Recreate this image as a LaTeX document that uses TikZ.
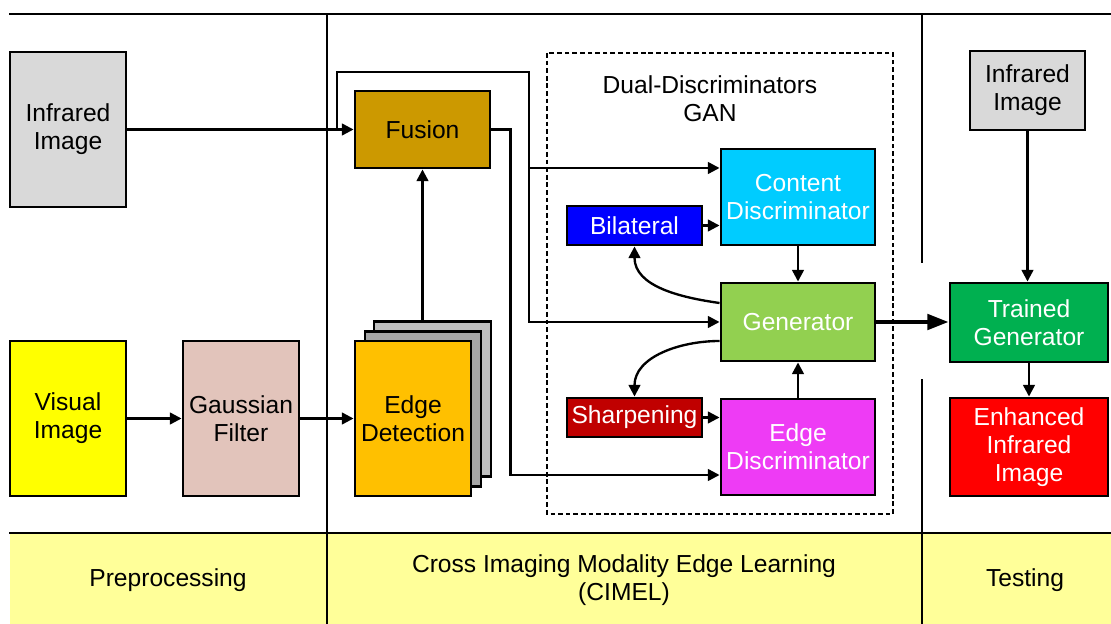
\documentclass[tikz,border=0pt]{standalone}
\usepackage{fontspec}
\setmainfont{Liberation Sans}
\usepackage{tikz}
\usetikzlibrary{arrows.meta,calc,positioning}
\definecolor{irgray}{HTML}{D9D9D9}
\definecolor{visyellow}{HTML}{FFFF00}
\definecolor{gaussrose}{HTML}{E2C4BB}
\definecolor{edgeorange}{HTML}{FFC000}
\definecolor{stackdark}{HTML}{A6A6A6}
\definecolor{stacklight}{HTML}{BFBFBF}
\definecolor{fusiongold}{HTML}{CC9900}
\definecolor{contentcyan}{HTML}{00CCFF}
\definecolor{bilatblue}{HTML}{0000FF}
\definecolor{genlime}{HTML}{92D050}
\definecolor{sharpred}{HTML}{C00000}
\definecolor{edgemagenta}{HTML}{EE3BF5}
\definecolor{trainedgreen}{HTML}{00B050}
\definecolor{enhred}{HTML}{FF0000}
\definecolor{bandyellow}{HTML}{FFFF99}
\tikzset{
  every picture/.style={draw=black, text=black},
}

\begin{document}
\begin{tikzpicture}[x=0.03cm, y=-0.03cm,
  every node/.style={font=\fontsize{21}{24}\selectfont, align=center},
  box/.style={draw=black, line width=2.5pt, inner sep=0pt},
  tallbox/.style={box, minimum width=3.48cm, minimum height=4.65cm},
  arr/.style={-{Triangle[length=10pt,width=10pt]}, line width=2pt},
  bigarr/.style={-{Triangle[length=18pt,width=13pt]}, line width=3.5pt},
  rule/.style={line width=2.2pt},
  divider/.style={line width=1pt}]

\useasboundingbox (0,0) rectangle (1111,624);

%% Section frame and bottom band
\fill[bandyellow] (10,533) rectangle (1111,624);
\draw[rule] (9,14) -- (1111,14);
\draw[rule] (9,533) -- (1111,533);
\draw[divider] (327,14) -- (327,624);
\draw[divider] (922,14) -- (922,263);
\draw[divider] (922,379) -- (922,624);
\node (prep) at (168,580) {Preprocessing};
\node (cimel) at (624,580) {Cross Imaging Modality Edge Learning\\(CIMEL)};
\node (test) at (1025,580) {Testing};

%% Preprocessing
\node[tallbox, fill=irgray] (irL) at (68,129.5) {Infrared\\Image};
\node[tallbox, fill=visyellow] (vis) at (68,418.5) {Visual\\Image};
\node[tallbox, fill=gaussrose] (gauss) at (241,418.5) {Gaussian\\Filter};

%% Edge detection stack and fusion
\node[tallbox, fill=stacklight, minimum width=3.51cm] (edgeC) at (432.5,399) {};
\node[tallbox, fill=stackdark] (edgeB) at (423,409) {};
\node[tallbox, fill=edgeorange] (edge) at (413,418.5) {Edge\\Detection};
\node[box, fill=fusiongold, minimum width=4.05cm, minimum height=2.31cm] (fusion) at (422.5,129.5) {Fusion};

%% Dual-discriminators GAN
\draw[line width=2pt, dash pattern=on 4pt off 2.5pt] (547,53) rectangle (893,514);
\node (ganlabel) at (710,99) {Dual-Discriminators\\GAN};
\node[box, fill=contentcyan, text=white, minimum width=4.62cm, minimum height=2.88cm] (content) at (798,197) {Content\\Discriminator};
\node[box, fill=bilatblue, text=white, minimum width=4.05cm, minimum height=1.17cm] (bilat) at (634.5,225.5) {Bilateral};
\node[box, fill=genlime, text=white, minimum width=4.62cm, minimum height=2.34cm] (gen) at (798,322) {Generator};
\node[box, fill=sharpred, text=white, minimum width=4.05cm, minimum height=1.17cm] (sharp) at (634.5,417.5) {Sharpening};
\node[box, fill=edgemagenta, text=white, minimum width=4.62cm, minimum height=2.88cm] (edisc) at (798,447) {Edge\\Discriminator};

%% Testing
\node[box, fill=irgray, minimum width=3.45cm, minimum height=2.37cm] (irR) at (1027.5,90.5) {Infrared\\Image};
\node[box, fill=trainedgreen, text=white, minimum width=4.74cm, minimum height=2.37cm] (tgen) at (1029,322.5) {Trained\\Generator};
\node[box, fill=enhred, text=white, minimum width=4.74cm, minimum height=2.94cm] (enh) at (1029,447) {Enhanced\\Infrared\\Image};

%% Connectors
\coordinate (jIR) at (337,129.5);
\coordinate (loopTop) at (529,72);
\coordinate (cIn) at ([yshift=0.87cm]content.west);
\coordinate (eIn) at ([yshift=-0.84cm]edisc.west);
\draw[arr] (irL.east) -- (fusion.west);
\draw[arr] (jIR) |- (loopTop) |- (gen.west);
\draw[arr] (loopTop |- cIn) -- (cIn);
\draw[arr] (fusion.east) -- ++(19,0) |- (eIn);
\draw[arr] (vis.east) -- (gauss.west);
\draw[arr] (gauss.east) -- (edge.west);
\draw[arr] (edgeC.north -| fusion.south) -- (fusion.south);
\draw[arr] (bilat.east) -- (bilat.east -| content.west);
\draw[arr] (sharp.east) -- (sharp.east -| edisc.west);
\draw[arr] (content.south) -- (gen.north);
\draw[arr] (edisc.north) -- (gen.south);
\draw[arr] ([yshift=0.57cm]gen.west) to[out=172,in=-90] (bilat.south);
\draw[arr] ([yshift=-0.57cm]gen.west) to[out=180,in=90] (sharp.north);
\draw[bigarr] (gen.east) -- (gen.east -| tgen.west);
\draw[arr] (irR.south) -- (irR.south |- tgen.north);
\draw[arr] (tgen.south) -- (tgen.south |- enh.north);

\end{tikzpicture}
\end{document}
